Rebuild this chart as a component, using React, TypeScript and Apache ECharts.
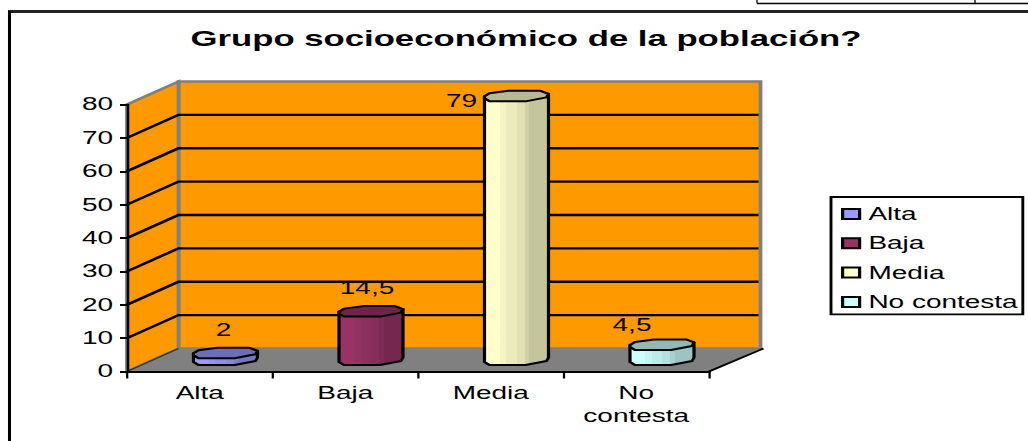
import React, { useEffect, useRef } from "react";
import * as echarts from "echarts";

const categories = ["Alta", "Baja", "Media", "No contesta"];
const values = [2, 14.5, 79, 4.5];
const valueLabels = ["2", "14,5", "79", "4,5"];
const barColors = ["#9999ff", "#993366", "#ffffcc", "#ccffff"];
const yTicks = [0, 10, 20, 30, 40, 50, 60, 70, 80];

const SX = 1.6; // the reference is stretched horizontally
const W = 1028 / SX;
const H = 441;
const px = (x: number) => x / SX;
const DX = px(51.5);
const DY = -23;
const LABEL_SHIFT = [
  [-2, -23],
  [-4, -24],
  [-55, 5],
  [-30, -20],
];

const shade = (hex: string, f: number) => {
  const n = parseInt(hex.slice(1), 16);
  const c = [(n >> 16) & 255, (n >> 8) & 255, n & 255].map((v) => Math.round(v * f));
  return `rgb(${c[0]},${c[1]},${c[2]})`;
};

const BANDS: [number, number, number][] = [
  [0, 0.24, 1],
  [0.24, 0.34, 0.96],
  [0.34, 0.5, 0.92],
  [0.5, 0.63, 0.88],
  [0.63, 0.7, 0.82],
  [0.7, 1, 0.77],
];

const renderWalls = (params: any, api: any) => {
  const cs = params.coordSys;
  const y0 = api.coord([0, 0])[1];
  const y80 = api.coord([0, 80])[1];
  const L = cs.x;
  const R = cs.x + cs.width;
  const edge = { stroke: "#808080", lineWidth: 2.4, fill: "#ff9900" };
  return {
    type: "group",
    children: [
      { type: "polygon", shape: { points: [[L, y0], [L + DX, y0 + DY], [R + DX, y0 + DY], [R, y0]] }, style: { fill: "#808080" } },
      { type: "polygon", shape: { points: [[L + DX, y80 + DY], [R + DX, y80 + DY], [R + DX, y0 + DY], [L + DX, y0 + DY]] }, style: edge },
      { type: "polygon", shape: { points: [[L, y80], [L + DX, y80 + DY], [L + DX, y0 + DY], [L, y0]] }, style: edge },
      { type: "line", shape: { x1: L, y1: y0, x2: L + DX, y2: y0 + DY }, style: { stroke: "#333", lineWidth: 1.2 } },
      { type: "line", shape: { x1: R, y1: y0, x2: R + DX + px(3), y2: y0 + DY }, style: { stroke: "#000", lineWidth: 1.8 } },
    ],
  };
};

const renderGrid = (params: any, api: any) => {
  const v = api.value(0);
  if (v === 0 || v === 80) return { type: "group", children: [] };
  const cs = params.coordSys;
  const y = api.coord([0, v])[1];
  const L = cs.x;
  const R = cs.x + cs.width;
  const style = { stroke: "#000", lineWidth: 2.4 };
  return {
    type: "group",
    children: [
      { type: "polyline", shape: { points: [[L, y], [L + DX, y + DY], [R + DX - px(2), y + DY]] }, style: { ...style, fill: "none" } },
    ],
  };
};

const makeBar = (index: number) => (params: any, api: any) => {
  const i = api.value(0);
  const v = api.value(1);
  const color = barColors[index];
  const [cx0, yBase] = api.coord([i, 0]);
  const yTop = api.coord([i, v])[1];
  const cx = cx0 + DX / 2;
  const bw = api.size([1, 0])[0] * 0.44;
  const hw = bw / 2;
  const base = yBase + DY / 2;
  const top = yTop + DY / 2;
  const u = (a: number, cy: number, b: number) => [cx + (a * hw) / 32, cy + b];
  const topPts = [u(-32, top, 0), u(-27, top, -3), u(-8, top, -5.5), u(24, top, -5.5), u(32, top, -2.5), u(30, top, 1), u(9, top, 5), u(-27, top, 5), u(-32, top, 2)];
  const bodyPts = [
    u(-32, top, 0), u(32, top, -2.5), u(32, base, -2.5), u(30, base, 1), u(9, base, 5), u(-27, base, 5), u(-32, base, 2),
  ];
  const stops: any[] = [];
  BANDS.forEach(([a, b, f]) => {
    stops.push({ offset: a, color: shade(color, f) });
    stops.push({ offset: b, color: shade(color, f) });
  });
  const border = { stroke: "#000", lineWidth: 2, lineJoin: "round" };
  return {
    type: "group",
    children: [
      {
        type: "polygon",
        shape: { points: bodyPts },
        style: { ...border, fill: new echarts.graphic.LinearGradient(0, 0, 1, 0, stops) },
      },
      { type: "polygon", shape: { points: topPts }, style: { ...border, fill: shade(color, 0.72) } },
      {
        type: "text",
        x: cx + px(LABEL_SHIFT[index][0]),
        y: top + LABEL_SHIFT[index][1],
        style: {
          text: valueLabels[index],
          fontFamily: "Liberation Sans",
          fontSize: 17.5,
          fill: "#000",
          textAlign: "center",
          textVerticalAlign: "middle",
        },
      },
    ],
  };
};

export default function App() {
  const ref = useRef<HTMLDivElement>(null);
  useEffect(() => {
    const chart = echarts.init(ref.current!, undefined, { renderer: "svg" });
    const axisText = { fontFamily: "Liberation Sans", fontSize: 17.5, color: "#000" };
    chart.setOption({
      animation: false,
      backgroundColor: "#fff",
      title: {
        text: "Grupo socioeconómico de la población?",
        left: px(518),
        top: 22,
        textAlign: "center",
        textStyle: { fontFamily: "Liberation Sans", fontWeight: "bold", fontSize: 21.7, color: "#000" },
      },
      grid: { left: px(127), top: 104.5, width: px(582), height: 267 },
      xAxis: {
        type: "category",
        data: categories,
        z: 10,
        axisLine: { lineStyle: { color: "#000", width: 2 } },
        axisTick: { show: true, length: 7, alignWithLabel: false, lineStyle: { color: "#000", width: 1.4 } },
        axisLabel: { ...axisText, interval: 0, margin: 10, lineHeight: 23, formatter: (s: string) => s.replace(" ", "\n") },
      },
      yAxis: {
        type: "value",
        min: 0,
        max: 80,
        interval: 10,
        z: 10,
        splitLine: { show: false },
        axisLine: { show: true, lineStyle: { color: "#000", width: 1.6 } },
        axisTick: { show: true, length: px(7), lineStyle: { color: "#000", width: 2 } },
        axisLabel: { ...axisText, margin: px(14), padding: [2, 0, 0, 0] },
      },
      legend: {
        data: categories,
        orient: "vertical",
        left: px(831),
        top: 197,
        itemWidth: px(17),
        itemHeight: 10,
        itemGap: 11.3,
        padding: [8, px(5), 3.5, px(10)],
        borderColor: "#000",
        borderWidth: 1.8,
        icon: "rect",
        selectedMode: false,
        textStyle: { ...axisText, padding: [0, 0, 0, 0.5] },
      },
      graphic: [
        { type: "line", shape: { x1: px(757), y1: 3.5, x2: px(1028), y2: 3.5 }, style: { stroke: "#000", lineWidth: 1.4 } },
        { type: "line", shape: { x1: px(757), y1: 0, x2: px(757), y2: 3.5 }, style: { stroke: "#000", lineWidth: 0.8 } },
        { type: "line", shape: { x1: px(975), y1: 0, x2: px(975), y2: 3.5 }, style: { stroke: "#000", lineWidth: 0.8 } },
        { type: "line", shape: { x1: px(8), y1: 11.5, x2: px(1028), y2: 11.5 }, style: { stroke: "#222", lineWidth: 3 } },
        { type: "line", shape: { x1: px(9.5), y1: 11, x2: px(9.5), y2: 441 }, style: { stroke: "#000", lineWidth: 1.9 } },
      ],
      series: [
        { type: "custom", silent: true, z: 1, renderItem: renderWalls, data: [[0]], encode: { x: -1, y: -1 }, clip: false },
        { type: "custom", silent: true, z: 2, renderItem: renderGrid, data: yTicks.map((t) => [t]), encode: { x: -1, y: 0 }, clip: false },
        ...categories.map((name, i) => ({
          type: "custom",
          name,
          z: 3 + i,
          clip: false,
          renderItem: makeBar(i),
          itemStyle: { color: barColors[i], borderColor: "#000", borderWidth: 1.8 },
          encode: { x: 0, y: 1 },
          data: [[i, values[i]]],
        })),
      ],
    });
    return () => chart.dispose();
  }, []);
  return (
    <div
      ref={ref}
      style={{
        position: "fixed",
        left: 0,
        top: 0,
        width: W,
        height: H,
        transform: `scaleX(${SX})`,
        transformOrigin: "0 0",
      }}
    />
  );
}
